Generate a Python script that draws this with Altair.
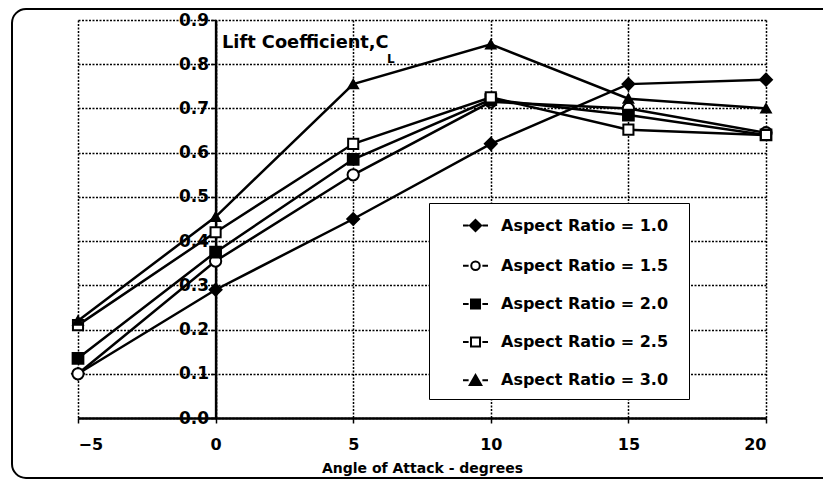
import altair as alt
import pandas as pd

# ---- data ----
angles = [-5, 0, 5, 10, 15, 20]
series_names = [
    "Aspect Ratio = 1.0",
    "Aspect Ratio = 1.5",
    "Aspect Ratio = 2.0",
    "Aspect Ratio = 2.5",
    "Aspect Ratio = 3.0",
]
ar_10 = [0.10, 0.29, 0.45, 0.62, 0.755, 0.765]
ar_15 = [0.10, 0.355, 0.55, 0.715, 0.70, 0.645]
ar_20 = [0.135, 0.375, 0.585, 0.72, 0.685, 0.64]
ar_25 = [0.21, 0.42, 0.62, 0.725, 0.652, 0.64]
ar_30 = [0.22, 0.455, 0.755, 0.845, 0.722, 0.70]

x_ticks = [-5, 0, 5, 10, 15, 20]
y_ticks = [0.0, 0.1, 0.2, 0.3, 0.4, 0.5, 0.6, 0.7, 0.8, 0.9]

# ---- styling ----
shapes = ["diamond", "circle", "square", "square", "triangle-up"]
sizes = [140, 90, 110, 110, 130]
fills = ["black", "white", "black", "white", "black"]
strokes = ["black"] * 5
stub = "M-1,0H-0.55M0.55,0H1"
legend_paths = [
    "M0,-0.45L0.45,0L0,0.45L-0.45,0Z" + stub,
    "M0.34,0A0.34,0.34 0 1,1 -0.34,0A0.34,0.34 0 1,1 0.34,0Z" + stub,
    "M-0.36,-0.36H0.36V0.36H-0.36Z" + stub,
    "M-0.36,-0.36H0.36V0.36H-0.36Z" + stub,
    "M0,-0.42L0.46,0.38H-0.46Z" + stub,
]

rows = []
for name, vals in zip(series_names, [ar_10, ar_15, ar_20, ar_25, ar_30]):
    for a, v in zip(angles, vals):
        rows.append({"series": name, "angle": a, "cl": v})
df = pd.DataFrame(rows)

FONT = "DejaVu Sans"
PAD_TAIL = "  \u200b"

x_enc = alt.X(
    "angle:Q",
    scale=alt.Scale(domain=[-5, 20], nice=False, zero=False),
    axis=alt.Axis(
        values=x_ticks,
        title="Angle of Attack - degrees",
        titleFont=FONT, titleFontSize=14, titleFontWeight="bold", titleColor="black",
        titlePadding=9,
        labelFont=FONT, labelFontSize=16, labelFontWeight="bold", labelColor="black",
        labelPadding=13,
        tickSize=5, tickColor="black", tickWidth=1.5,
        domainColor="black", domainWidth=2.5,
        grid=True, gridColor="black", gridDash=[2, 1.5], gridWidth=1.5, gridOpacity=1,
    ),
)
y_enc = alt.Y(
    "cl:Q",
    scale=alt.Scale(domain=[0, 0.9], nice=False),
    axis=alt.Axis(
        values=y_ticks,
        format=".1f",
        title=None,
        offset=-137.6,
        labelFont=FONT, labelFontSize=17, labelFontWeight="bold", labelColor="black",
        labelPadding=2,
        tickSize=5, tickColor="black", tickWidth=1.5,
        domainColor="black", domainWidth=2.5,
        grid=True, gridColor="black", gridDash=[2, 1.5], gridWidth=1.5, gridOpacity=1,
    ),
)

base = alt.Chart(df)

lines = base.mark_line(color="black", strokeWidth=2.5).encode(
    x=x_enc, y=y_enc, detail="series:N", order="angle:Q"
)

points = base.mark_point(stroke="black", strokeWidth=2, opacity=1, fillOpacity=1).encode(
    x=x_enc,
    y=y_enc,
    shape=alt.Shape("series:N", scale=alt.Scale(domain=series_names, range=shapes), legend=None),
    fill=alt.Fill("series:N", scale=alt.Scale(domain=series_names, range=fills), legend=None),
    size=alt.Size("series:N", scale=alt.Scale(domain=series_names, range=sizes), legend=None),
)

leg = alt.Legend(
    title=None,
    orient="none",
    legendX=351,
    legendY=183,
    padding=9,
    fillColor="white",
    strokeColor="black",
    symbolSize=625,
    symbolStrokeColor="black",
    symbolStrokeWidth=2,
    symbolOffset=24,
    labelOffset=12,
    rowPadding=16.2,
    labelLimit=400,
    labelFont=FONT,
    labelFontSize=16,
    labelFontWeight="bold",
    labelColor="black",
    labelExpr="datum.label + '" + PAD_TAIL + "'",
)

legend_layer = base.transform_filter("false").mark_point(
    strokeWidth=2, opacity=1, fillOpacity=1, size=625
).encode(
    x=x_enc,
    y=y_enc,
    shape=alt.Shape("series:N", scale=alt.Scale(domain=series_names, range=legend_paths), legend=leg),
    fill=alt.Fill("series:N", scale=alt.Scale(domain=series_names, range=fills), legend=leg),
    stroke=alt.Stroke("series:N", scale=alt.Scale(domain=series_names, range=strokes), legend=leg),
)

one = alt.Data(values=[{}])

frame = alt.Chart(one).mark_rect(
    fill=None, stroke="black", strokeWidth=2, cornerRadius=14
).encode(
    x=alt.value(-66), x2=alt.value(760), y=alt.value(-11), y2=alt.value(458)
)

lift_text = alt.Chart(one).mark_text(
    text="Lift Coefficient,C", align="left", baseline="middle",
    font=FONT, fontSize=17.8, fontWeight="bold", color="black",
).encode(x=alt.value(144), y=alt.value(23))

lift_sub = alt.Chart(one).mark_text(
    text="L", align="left", baseline="middle",
    font=FONT, fontSize=12, fontWeight="bold", color="black",
).encode(x=alt.value(309), y=alt.value(39))

chart = (
    alt.layer(frame, lines, points, legend_layer, lift_text, lift_sub)
    .resolve_scale(shape="independent", fill="independent", stroke="independent")
    .properties(
        width=688,
        height=398,
        autosize=alt.AutoSizeParams(type="none"),
        padding={"left": 70, "top": 12, "right": 57, "bottom": 62},
        background="white",
    )
    .configure_view(stroke=None)
)

chart.save("out.html", embed_options={"renderer": "svg", "actions": False})
